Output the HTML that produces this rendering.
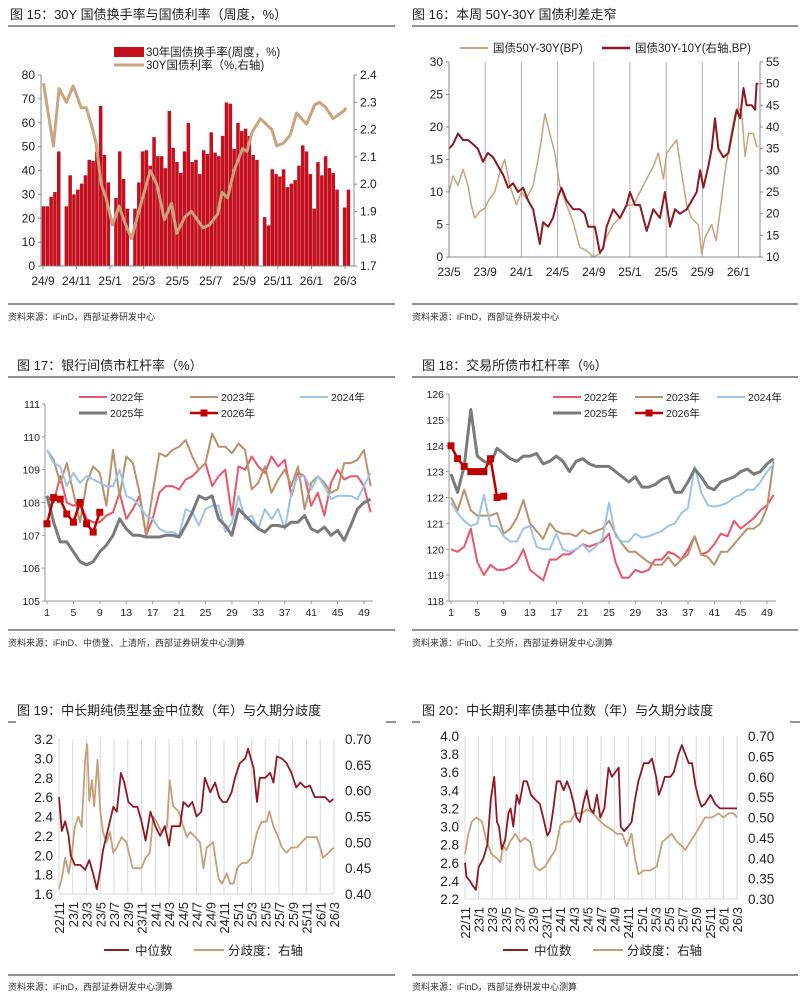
<!DOCTYPE html>
<html><head><meta charset="utf-8">
<style>
html,body{margin:0;padding:0;background:#fff;}
svg{display:block;font-family:"Liberation Sans","Noto Sans CJK SC",sans-serif;}
.t{font-size:13px;fill:#222;font-family:"Liberation Sans","Noto Sans CJK SC",sans-serif;}
.s{font-size:9px;fill:#333;}
</style></head>
<body>
<svg id="root" width="801" height="996" viewBox="0 0 801 996">
  <text class="t" x="10" y="19">图 15：30Y 国债换手率与国债利率（周度，%）</text>
  <line x1="8" y1="26" x2="395" y2="26" stroke="#222" stroke-width="1"/>
  <line x1="8" y1="304" x2="395" y2="304" stroke="#222" stroke-width="1"/>
  <text class="s" x="8" y="320">资料来源：iFinD，西部证券研发中心</text>

  <text class="t" x="412" y="19">图 16：本周 50Y-30Y 国债利差走窄</text>
  <line x1="412" y1="26" x2="798" y2="26" stroke="#222" stroke-width="1"/>
  <line x1="412" y1="304" x2="798" y2="304" stroke="#222" stroke-width="1"/>
  <text class="s" x="412" y="320">资料来源：iFinD，西部证券研发中心</text>

  <text class="t" x="17" y="370">图 17：银行间债市杠杆率（%）</text>
  <line x1="8" y1="377" x2="395" y2="377" stroke="#222" stroke-width="1"/>
  <line x1="8" y1="630" x2="395" y2="630" stroke="#222" stroke-width="1"/>
  <text class="s" x="8" y="646">资料来源：iFinD、中债登、上清所，西部证券研发中心测算</text>

  <text class="t" x="422" y="370">图 18：交易所债市杠杆率（%）</text>
  <line x1="412" y1="377" x2="798" y2="377" stroke="#222" stroke-width="1"/>
  <line x1="412" y1="630" x2="798" y2="630" stroke="#222" stroke-width="1"/>
  <text class="s" x="412" y="646">资料来源：iFinD、上交所，西部证券研发中心测算</text>

  <text class="t" x="17" y="715">图 19：中长期纯债型基金中位数（年）与久期分歧度</text>
  <line x1="8" y1="722" x2="16" y2="722" stroke="#222" stroke-width="1"/>
  <line x1="386" y1="722" x2="396" y2="722" stroke="#222" stroke-width="1"/>
  <line x1="8" y1="975" x2="395" y2="975" stroke="#222" stroke-width="1"/>
  <text class="s" x="8" y="990">资料来源：iFinD，西部证券研发中心测算</text>

  <text class="t" x="422" y="715">图 20：中长期利率债基中位数（年）与久期分歧度</text>
  <line x1="412" y1="722" x2="420" y2="722" stroke="#222" stroke-width="1"/>
  <line x1="790" y1="722" x2="800" y2="722" stroke="#222" stroke-width="1"/>
  <line x1="412" y1="975" x2="798" y2="975" stroke="#222" stroke-width="1"/>
  <text class="s" x="412" y="990">资料来源：iFinD，西部证券研发中心测算</text>
</svg>
<script>
// ---------- Chart 15 data ----------
const c15Turnover = [25,25,29,31,48,0,25,38,30,32,34.5,38,44.5,44,48,67,46.5,35,0,28.5,48,36.5,24,0,24,35,48,48.5,42,54,46,46,41,65,49.5,43.5,39,48,60,43.5,44.5,38.5,48.5,47,56,47.5,46,54.5,68.5,68,49,60,56.5,57.5,54.5,46.5,44.5,0,20.5,17,40.5,38.5,37.5,40.5,33,34.5,36,42,50.5,48,38.5,24,43.5,38,46,41,39,32,0,24.5,32];
const c15YieldWeek = [0,2.6,4.1,6.0,7.8,9.9,11.2,12.5,13.8,15.1,16.4,18.1,19.8,21.6,23.1,25.0,28.0,29.7,31.7,33.6,34.9,37.1,38.8,41.8,43.5,45.7,46.8,48.3,50.0,52.2,53.4,54.7,56.9,59.9,61.2,62.9,64.7,66.4,69.0,71.1,72.4,74.1,75.9,78.9,79.3];
const c15Yield = [2.37,2.14,2.35,2.30,2.36,2.28,2.28,2.22,2.15,2.0,1.95,1.85,1.92,1.85,1.80,1.90,2.05,2.0,1.87,1.93,1.82,1.88,1.9,1.84,1.85,1.89,1.97,1.95,2.05,2.13,2.12,2.19,2.24,2.2,2.14,2.15,2.18,2.26,2.22,2.29,2.3,2.28,2.24,2.27,2.28];
const c15XLabels = ["24/9","24/11","25/1","25/3","25/5","25/7","25/9","25/11","26/1","26/3"];
const c15LeftTicks = [0,10,20,30,40,50,60,70,80];
const c15RightTicks = [1.7,1.8,1.9,2.0,2.1,2.2,2.3,2.4];

// ---------- Chart 16 data ----------
const c16TanMonth = [0,0.44,1.0,1.55,2.1,2.47,2.84,3.39,3.95,4.5,5.06,5.61,6.16,6.72,7.45,8.0,8.56,9.3,9.85,10.2,10.6,11.14,11.7,12.25,13.0,13.7,14.46,15.2,15.94,16.68,17.4,18.15,18.9,19.63,20.4,21.1,21.85,22.6,23.14,23.7,24.06,24.6,25.17,25.7,26.27,26.8,27.56,27.93,28.3,29.04,29.52,29.96,30.5,31.07,31.62,32.0,32.36,32.73,33.1,33.65,34.0,34.2];
const c16Tan = [10,12.5,11,13.5,11,8,6,7,7.5,9,10,13,15,11,8,10,9,11,15,18,22,19,16,11,8,5.5,1.5,1,0,0.5,3,5,6,8,8,10,12,14,16,12,16,17,18,13,8,6,5,0.5,3,5,2.5,7,13,18,22,23,22,15.5,19,19,17,17];
const c16RedMonth = [0,0.44,1.0,1.55,2.1,2.66,3.2,3.76,4.3,4.87,5.42,5.98,6.53,7.08,7.64,8.19,8.75,9.3,9.67,10.04,10.4,10.96,11.5,12.07,12.44,13.0,13.73,14.46,15.0,15.39,16.13,16.68,17.05,17.42,18.15,18.9,19.63,20.0,20.55,21.1,21.85,22.58,23.32,23.87,24.43,24.98,25.53,26.27,26.83,27.38,27.75,28.12,28.67,29.04,29.4,29.78,30.33,30.89,31.44,31.8,32.18,32.55,32.9,33.47,33.84,34.0,34.2];
const c16Red = [35,36,38.5,37,37,36,35,32,34,33,31,29,26,27,25,26,23,21,17,13,18,17,19,24,26,23,21,21,20,17,17,11,12,17,21,19,22,25,22,22,16,21,19,25,17,21,20,21,23,25,30,26,31,35,42,35,33,34,40,44,42,49,45,45,44,50,50];
const c16XLabels = ["23/5","23/9","24/1","24/5","24/9","25/1","25/5","25/9","26/1"];
const c16LeftTicks = [0,5,10,15,20,25,30];
const c16RightTicks = [10,15,20,25,30,35,40,45,50,55];

// ---------- Chart 17 data ----------
const c17Series2022 = [108.2,108.0,108.8,108.0,107.9,108.0,107.5,107.4,107.4,107.6,107.7,108.3,107.5,107.8,108.2,107.0,107.5,108.3,108.5,108.5,108.4,108.7,108.8,109.0,109.2,108.5,108.8,109.0,107.6,109.1,109.0,109.4,109.1,108.9,109.4,109.1,109.3,108.2,108.9,108.8,107.9,108.3,107.6,108.6,109.0,108.7,108.8,108.8,108.5,107.7];
const c17Series2023 = [109.6,109.3,108.6,109.2,108.3,107.4,108.6,109.1,108.9,107.9,109.6,108.2,109.4,109.2,108.3,107.0,108.3,109.5,109.4,109.6,109.7,109.9,109.4,109.0,109.2,110.1,109.7,109.7,109.5,109.8,109.6,108.4,108.6,109.1,108.3,108.7,109.0,108.5,109.1,107.8,108.6,108.8,108.6,108.3,108.4,109.2,109.2,109.3,109.6,108.5];
const c17Series2024 = [109.6,109.2,109.1,108.5,108.9,108.6,108.8,108.7,108.6,108.5,108.5,109.0,108.2,108.1,107.9,107.6,107.5,107.2,107.1,107.1,107.0,107.8,107.7,107.3,107.8,107.9,107.9,107.1,107.4,108.2,107.5,107.6,107.2,107.8,107.5,107.8,107.2,108.3,108.8,108.8,108.4,108.8,108.5,108.1,108.2,108.2,108.2,108.1,108.5,108.9];
const c17Series2025 = [108.2,107.4,106.8,106.8,106.5,106.2,106.1,106.2,106.5,106.7,107.0,107.5,107.2,107.0,107.0,106.95,106.95,106.95,107.0,107.0,106.95,107.3,107.7,108.2,108.1,108.2,107.5,107.3,107.0,107.8,107.6,107.4,107.2,107.1,107.3,107.3,107.25,107.4,107.4,107.6,107.2,107.1,107.25,107.0,107.15,106.85,107.3,107.8,108.0,108.1];
const c17Series2026 = [107.35,108.15,108.1,107.65,107.4,108.0,107.35,107.1,107.7];
const c17YTicks = [105,106,107,108,109,110,111];

// ---------- Chart 18 data ----------
const c18Series2022 = [120.0,119.9,120.1,120.8,119.5,119.0,119.4,119.2,119.2,119.3,119.5,120.0,119.2,119.0,118.8,119.6,119.6,119.8,119.8,120.0,120.2,120.1,120.2,120.3,120.6,119.5,118.9,118.9,119.2,119.1,119.2,119.6,119.6,119.9,119.8,119.6,120.0,120.5,119.8,119.9,120.2,120.6,120.5,121.1,120.8,121.0,121.2,121.5,121.7,122.1];
const c18Series2023 = [122.0,121.5,122.3,121.5,121.3,121.3,121.3,121.4,120.6,120.8,121.2,121.9,121.0,120.7,120.4,121.0,120.7,120.6,120.6,120.5,120.75,120.6,120.7,120.8,121.1,120.6,120.2,119.9,119.9,119.7,119.5,119.4,119.4,119.7,119.35,119.6,119.8,120.5,119.8,119.7,119.4,119.9,119.9,120.2,120.5,120.8,120.8,121.0,121.6,123.4];
const c18Series2024 = [121.8,121.4,121.1,120.9,121.0,122.1,120.9,120.9,120.5,120.3,120.3,120.8,120.9,120.1,120.0,120.0,120.6,120.0,119.9,120.0,120.2,119.9,120.1,120.4,121.8,120.5,120.3,120.3,120.6,120.45,120.5,120.6,120.7,120.9,121.0,121.4,121.6,123.2,122.2,121.7,121.65,121.7,121.8,122.0,122.1,122.3,122.3,122.6,123.0,123.3];
const c18Series2025 = [122.9,122.2,123.2,125.4,123.6,123.4,123.3,123.9,123.7,123.5,123.4,123.6,123.6,123.7,123.3,123.4,123.6,123.4,123.0,123.4,123.5,123.3,123.2,123.2,123.2,123.0,122.8,122.6,122.8,122.4,122.4,122.5,122.7,122.8,122.2,122.2,122.6,123.1,122.8,122.4,122.3,122.6,122.7,122.8,123.0,123.1,122.9,123.0,123.3,123.5];
const c18Series2026 = [124.0,123.5,123.2,123.0,123.0,123.0,123.5,122.0,122.05];
const c18YTicks = [118,119,120,121,122,123,124,125,126];

const weekLabels = [1,5,9,13,17,21,25,29,33,37,41,45,49];

// ---------- Chart 19 data ----------
const c19MedMonth = [0,0.4,0.9,1.4,1.7,2.3,3.1,3.8,4.4,5.0,5.5,6.0,6.4,6.9,7.4,7.9,8.4,9.0,9.5,10.1,10.8,11.4,12.0,12.6,13.3,14.0,14.7,15.4,16.0,16.4,17.1,17.6,18.1,18.8,19.4,20.0,20.7,21.2,22.0,22.7,23.3,23.8,24.4,25.1,25.6,26.3,27.1,27.5,28.3,28.8,29.2,30.0,30.7,31.2,31.7,32.4,33.1,33.8,34.5,35.1,35.8,36.5,37.2,38.0,38.7,39.4,39.9];
const c19Median = [2.6,2.25,2.35,2.2,2.0,1.9,1.9,1.85,1.95,1.8,1.65,1.85,2.05,2.2,2.35,2.5,2.45,2.85,2.75,2.55,2.5,2.5,2.35,2.15,2.45,2.3,2.2,2.3,2.1,2.3,2.3,2.3,2.55,2.5,2.55,2.4,2.45,2.8,2.65,2.75,2.6,2.55,2.55,2.65,2.8,2.95,3.0,3.1,2.9,2.55,2.8,2.8,2.85,2.75,3.02,3.0,2.95,2.85,2.7,2.75,2.7,2.72,2.6,2.6,2.6,2.55,2.58];
const c19DispMonth = [0,0.4,0.9,1.4,1.8,2.3,2.8,3.3,3.8,4.1,4.4,4.8,5.1,5.6,6.0,6.4,6.9,7.4,7.9,8.4,9.1,9.8,10.7,11.3,12.0,12.6,13.2,13.7,14.2,14.9,15.7,16.1,16.6,17.4,18.1,18.6,19.1,19.8,20.5,21.0,21.5,22.4,23.2,23.7,24.4,24.9,25.4,25.9,26.6,27.3,28.0,28.8,29.5,30.2,30.6,31.2,31.9,32.4,33.1,33.8,34.6,35.3,36.0,36.8,37.5,38.0,38.4,39.2,40.0];
const c19Disp = [0.41,0.43,0.47,0.44,0.47,0.53,0.55,0.53,0.66,0.69,0.58,0.62,0.57,0.66,0.56,0.52,0.50,0.52,0.48,0.49,0.51,0.50,0.45,0.45,0.45,0.47,0.48,0.55,0.54,0.52,0.53,0.62,0.57,0.56,0.53,0.51,0.52,0.51,0.50,0.45,0.49,0.50,0.43,0.42,0.44,0.42,0.42,0.45,0.46,0.46,0.47,0.52,0.54,0.54,0.56,0.53,0.51,0.49,0.48,0.49,0.49,0.50,0.51,0.51,0.51,0.49,0.47,0.48,0.49];
const c19LeftTicks = [1.6,1.8,2.0,2.2,2.4,2.6,2.8,3.0,3.2];
const c19RightTicks = [0.40,0.45,0.50,0.55,0.60,0.65,0.70];

// ---------- Chart 20 data ----------
const c20MedMonth = [0,0.2,0.7,1.1,1.6,2.0,2.7,3.3,3.8,4.3,4.7,5.0,5.4,5.9,6.4,6.7,7.1,7.6,8.0,8.6,9.1,9.7,10.3,11.0,11.5,12.1,12.5,13.0,13.5,14.0,14.5,15.0,15.5,16.0,16.4,16.9,17.4,17.9,18.4,18.9,19.4,19.9,20.5,21.1,21.6,22.1,22.6,22.9,23.4,24.0,24.5,25.0,25.5,26.3,27.0,27.5,28.1,28.5,29.0,29.4,30.2,30.7,31.4,31.9,32.4,32.9,33.4,33.9,34.4,34.8,35.3,36.1,36.8,37.5,38.3,39.0,40.0];
const c20Median = [2.6,2.45,2.4,2.35,2.3,2.55,2.65,2.8,3.3,3.55,3.05,3.0,2.75,2.85,3.15,3.2,3.0,3.35,3.25,3.5,3.5,3.35,3.3,3.25,3.1,2.9,2.95,3.2,3.5,3.5,3.4,3.5,3.4,3.25,3.1,3.05,3.25,3.4,3.2,3.15,3.35,3.1,3.2,3.65,3.55,3.6,3.65,3.0,2.95,3.0,3.05,3.3,3.5,3.7,3.7,3.75,3.55,3.35,3.45,3.55,3.55,3.6,3.8,3.9,3.8,3.7,3.7,3.45,3.3,3.22,3.25,3.35,3.25,3.2,3.2,3.2,3.2];
const c20DispMonth = [0,0.5,1.0,1.7,2.5,3.2,3.9,4.7,5.2,5.6,6.1,6.6,7.4,8.1,8.8,9.6,10.3,11.0,11.8,12.5,13.3,14.0,14.7,15.5,16.2,17.2,17.9,18.9,19.9,20.6,21.6,22.3,23.1,23.8,24.5,25.0,25.5,26.3,27.2,28.2,29.0,29.7,30.4,31.2,31.9,32.4,33.1,33.9,34.6,35.3,36.3,37.3,38.0,38.8,39.5,40.0];
const c20Disp = [0.41,0.46,0.49,0.5,0.49,0.44,0.41,0.40,0.39,0.43,0.42,0.44,0.46,0.44,0.45,0.44,0.38,0.37,0.38,0.40,0.42,0.48,0.49,0.49,0.51,0.51,0.52,0.51,0.49,0.48,0.47,0.46,0.46,0.43,0.46,0.40,0.36,0.37,0.37,0.38,0.44,0.45,0.46,0.44,0.43,0.42,0.44,0.46,0.48,0.5,0.5,0.51,0.50,0.51,0.51,0.5];
const c20LeftTicks = [2.2,2.4,2.6,2.8,3.0,3.2,3.4,3.6,3.8,4.0];
const c20RightTicks = [0.30,0.35,0.40,0.45,0.50,0.55,0.60,0.65,0.70];

const monthLabels = ["22/11","23/1","23/3","23/5","23/7","23/9","23/11","24/1","24/3","24/5","24/7","24/9","24/11","25/1","25/3","25/5","25/7","25/9","25/11","26/1","26/3"];

// ---------- helpers ----------
const NS = "http://www.w3.org/2000/svg";
const root = document.getElementById("root");
function el(tag, parent) { const e = document.createElementNS(NS, tag); parent.appendChild(e); return e; }
function lin(d0, d1, r0, r1) { return v => r0 + (v - d0) * (r1 - r0) / (d1 - d0); }
function group(name) {
  const g = el("g", root);
  
  
  return g;
}
function txt(parent, x, y, s, size, anchor, name) {
  const t = el("text", parent);
  t.setAttribute("x", x); t.setAttribute("y", y);
  t.setAttribute("font-size", size); t.setAttribute("fill", "#222");
  t.setAttribute("text-anchor", anchor || "start");
  t.textContent = s;
  
  
  return t;
}
function seg(parent, x1, y1, x2, y2, color, w, name) {
  const l = el("line", parent);
  l.setAttribute("x1", x1); l.setAttribute("y1", y1); l.setAttribute("x2", x2); l.setAttribute("y2", y2);
  l.setAttribute("stroke", color); l.setAttribute("stroke-width", w);
  
  
  return l;
}
function poly(parent, xs, ys, sx, sy, color, w, name) {
  const p = el("polyline", parent);
  p.setAttribute("points", xs.map((x, i) => sx(x).toFixed(1) + "," + sy(ys[i]).toFixed(1)).join(" "));
  p.setAttribute("fill", "none"); p.setAttribute("stroke", color); p.setAttribute("stroke-width", w);
  p.setAttribute("stroke-linejoin", "round");
  
  
  return p;
}
function fmt(v, d) { return v.toFixed(d); }

// ---------- Chart 15 ----------
(function(){
  const g = group("chart15-turnover-yield");
  const L = 41, R = 354, T = 75, B = 266;
  const yL = lin(0, 80, B, T), yR = lin(1.7, 2.4, B, T);
  const n = c15Turnover.length;
  const xb = lin(0, n - 1, 43.5, 348.5);
  const bw = (348.5 - 43.5) / (n - 1) * 0.92;
  c15Turnover.forEach((v, i) => {
    const r = el("rect", g);
    r.setAttribute("x", (xb(i) - bw / 2).toFixed(1)); r.setAttribute("y", yL(v).toFixed(1));
    r.setAttribute("width", bw.toFixed(2)); r.setAttribute("height", (B - yL(v)).toFixed(1));
    r.setAttribute("fill", "#c40f1e");
    
    
  });
  poly(g, c15YieldWeek, c15Yield, xb, yR, "#c8a57f", 3, "yield-line");
  seg(g, L, T, L, B, "#888", 1, "left-axis");
  seg(g, R, T, R, B, "#888", 1, "right-axis");
  seg(g, L, B, R, B, "#888", 1, "x-axis");
  c15LeftTicks.forEach(v => { seg(g, L - 3, yL(v), L, yL(v), "#888", 1, "left-tick"); txt(g, L - 6, yL(v) + 4, String(v), 12, "end", "left-tick-label"); });
  c15RightTicks.forEach(v => { seg(g, R, yR(v), R + 3, yR(v), "#888", 1, "right-tick"); txt(g, R + 6, yR(v) + 4, fmt(v, 1), 12, "start", "right-tick-label"); });
  const xl = lin(0, c15XLabels.length - 1, 43, 345);
  c15XLabels.forEach((s, i) => { seg(g, xl(i), B, xl(i), B + 3, "#888", 1, "x-tick"); txt(g, xl(i), 285, s, 12, "middle", "x-tick-label"); });
  const lg = el("rect", g); lg.setAttribute("x", 114); lg.setAttribute("y", 47); lg.setAttribute("width", 30); lg.setAttribute("height", 10); lg.setAttribute("fill", "#c40f1e");
  
  
  txt(g, 146, 56, "30年国债换手率(周度，%)", 11.5, "start", "legend-turnover-label");
  seg(g, 114, 65, 144, 65, "#c8a57f", 3, "legend-yield-swatch");
  txt(g, 146, 69, "30Y国债利率（%,右轴)", 11.5, "start", "legend-yield-label");
})();

// ---------- Chart 16 ----------
(function(){
  const g = group("chart16-spreads");
  const L = 449, R = 760, T = 62, B = 257;
  const yL = lin(0, 30, B, T), yR = lin(10, 55, B, T);
  const xm = lin(0, 32, 449, 738.5);
  c16XLabels.forEach((s, i) => {
    const x = xm(i * 4);
    if (i > 0) seg(g, x, T, x, B, "#b0b0b0", 1, "x-gridline");
    txt(g, x, 276, s, 12, "middle", "x-tick-label");
  });
  poly(g, c16TanMonth, c16Tan, xm, yL, "#c9a27e", 1.5, "spread-50y-30y-line");
  poly(g, c16RedMonth, c16Red, xm, yR, "#8b1a22", 2, "spread-30y-10y-line");
  seg(g, L, T, L, B, "#888", 1, "left-axis");
  seg(g, R, T, R, B, "#888", 1, "right-axis");
  seg(g, L, B, R, B, "#888", 1, "x-axis");
  c16LeftTicks.forEach(v => { seg(g, L - 3, yL(v), L, yL(v), "#888", 1, "left-tick"); txt(g, L - 6, yL(v) + 4, String(v), 12, "end", "left-tick-label"); });
  c16RightTicks.forEach(v => { seg(g, R, yR(v), R + 3, yR(v), "#888", 1, "right-tick"); txt(g, R + 6, yR(v) + 4, String(v), 12, "start", "right-tick-label"); });
  seg(g, 460, 48, 488, 48, "#c9a27e", 2, "legend-50y-30y-swatch");
  txt(g, 493, 52, "国债50Y-30Y(BP)", 11.5, "start", "legend-50y-30y-label");
  seg(g, 602, 48, 630, 48, "#8b1a22", 2.5, "legend-30y-10y-swatch");
  txt(g, 635, 52, "国债30Y-10Y(右轴,BP)", 11.5, "start", "legend-30y-10y-label");
})();

// ---------- Chart 17 / 18 ----------
function weekChart(name, L, R, T, B, x1, x49, ticks, s22, s23, s24, s25, s26, legX, legTop) {
  const g = group(name);
  const y = lin(ticks[0], ticks[ticks.length - 1], B, T);
  const x = lin(1, 49, x1, x49);
  const idx = a => a.map((_, i) => i + 1);
  seg(g, L, T, L, B, "#999", 1, "y-axis");
  seg(g, L, B, R, B, "#999", 1, "x-axis");
  ticks.forEach(v => { seg(g, L - 3, y(v), L, y(v), "#999", 1, "y-tick"); txt(g, L - 5, y(v) + 4, String(v), 10.5, "end", "y-tick-label"); });
  weekLabels.forEach(w => { seg(g, x(w), B, x(w), B + 3, "#999", 1, "x-tick"); txt(g, x(w), B + 15, String(w), 10.5, "middle", "x-tick-label"); });
  poly(g, idx(s22), s22, x, y, "#e8566a", 2, "series-2022-line");
  poly(g, idx(s23), s23, x, y, "#b8926a", 2, "series-2023-line");
  poly(g, idx(s24), s24, x, y, "#9cc4ea", 2, "series-2024-line");
  poly(g, idx(s25), s25, x, y, "#7a7a7a", 3, "series-2025-line");
  poly(g, idx(s26), s26, x, y, "#c00000", 2.5, "series-2026-line");
  s26.forEach((v, i) => {
    const r = el("rect", g);
    r.setAttribute("x", (x(i + 1) - 3.5).toFixed(1)); r.setAttribute("y", (y(v) - 3.5).toFixed(1));
    r.setAttribute("width", 7); r.setAttribute("height", 7); r.setAttribute("fill", "#c00000");
    
    
  });
  const leg = [["2022年", "#e8566a", 2, 0, 0], ["2023年", "#b8926a", 2, 1, 0], ["2024年", "#9cc4ea", 2, 2, 0], ["2025年", "#7a7a7a", 3, 0, 1], ["2026年", "#c00000", 2.5, 1, 1]];
  leg.forEach(l => {
    const lx = legX[l[3]], ly = legTop + l[4] * 16;
    seg(g, lx, ly, lx + 28, ly, l[1], l[2], "legend-swatch");
    if (l[0] === "2026年") {
      const m = el("rect", g); m.setAttribute("x", lx + 10.5); m.setAttribute("y", ly - 3.5); m.setAttribute("width", 7); m.setAttribute("height", 7); m.setAttribute("fill", "#c00000");
      
      
    }
    txt(g, lx + 31, ly + 4, l[0], 10.5, "start", "legend-label");
  });
}
weekChart("chart17-interbank-leverage", 45, 373, 404, 601, 47, 364, c17YTicks, c17Series2022, c17Series2023, c17Series2024, c17Series2025, c17Series2026, [79, 190, 300], 397);
weekChart("chart18-exchange-leverage", 449, 776, 394, 601, 451, 767, c18YTicks, c18Series2022, c18Series2023, c18Series2024, c18Series2025, c18Series2026, [553, 635, 717], 397);

// ---------- Chart 19 / 20 ----------
function durChart(name, L, R, T, B, lt, rt, ld, rd, mm, med, dm, disp, legX) {
  const g = group(name);
  const yL = lin(lt[0], lt[lt.length - 1], B, T), yR = lin(rt[0], rt[rt.length - 1], B, T);
  const xm = lin(0, 40, L, R);
  monthLabels.forEach((s, i) => {
    const x = xm(i * 2);
    seg(g, x, T, x, B, "#d9d9d9", 1, "x-gridline");
    const t = txt(g, 0, 0, s, 13, "end", "x-tick-label");
    t.setAttribute("transform", "translate(" + (x + 5).toFixed(1) + "," + (B + 8) + ") rotate(-90)");
  });
  seg(g, L, B, R, B, "#d9d9d9", 1, "x-axis");
  poly(g, dm, disp, xm, yR, "#c4a07a", 1.8, "dispersion-line");
  poly(g, mm, med, xm, yL, "#8b1a22", 1.8, "median-line");
  lt.forEach(v => txt(g, L - 6, yL(v) + 5, fmt(v, ld), 13.5, "end", "left-tick-label"));
  rt.forEach(v => txt(g, R + 11, yR(v) + 5, fmt(v, rd), 13.5, "start", "right-tick-label"));
  seg(g, legX, 950, legX + 25, 950, "#8b1a22", 2, "legend-median-swatch");
  txt(g, legX + 31, 955, "中位数", 12.5, "start", "legend-median-label");
  seg(g, legX + 90, 950, legX + 120, 950, "#c4a07a", 2, "legend-dispersion-swatch");
  txt(g, legX + 124, 955, "分歧度：右轴", 12.5, "start", "legend-dispersion-label");
}
durChart("chart19-pure-bond-duration", 59, 334, 739, 894, c19LeftTicks, c19RightTicks, 1, 2, c19MedMonth, c19Median, c19DispMonth, c19Disp, 104);
durChart("chart20-rate-bond-duration", 465, 737, 736, 899, c20LeftTicks, c20RightTicks, 1, 2, c20MedMonth, c20Median, c20DispMonth, c20Disp, 503);
</script>
</body></html>
